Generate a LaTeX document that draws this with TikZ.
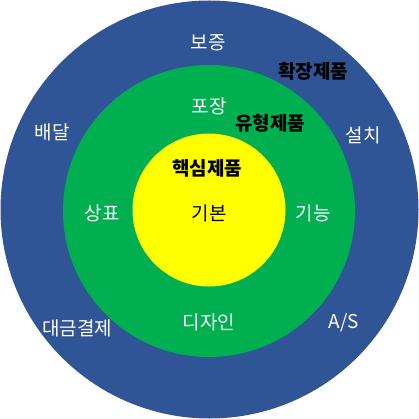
\documentclass[tikz,border=0pt]{standalone}
\usepackage{fontspec}
\setmainfont{Noto Sans CJK KR}
\usepackage{tikz}
\definecolor{outerblue}{HTML}{2F5597}
\definecolor{midgreen}{HTML}{00B050}
\definecolor{coreyellow}{HTML}{FFFF00}
\tikzset{ring/.style = {shape=circle,inner sep=0pt}}
\tikzset{item/.style = {text=white,font=\fontsize{19}{22}\selectfont}}
\tikzset{level/.style = {text=black,font=\fontsize{19}{22}\selectfont\bfseries}}

\begin{document}
\begin{tikzpicture}[x=1pt,y=-1pt]
                \useasboundingbox (0,0) rectangle (419,419);
                \node[ring,fill=outerblue,minimum size=418pt] (outer) at (209.5,209.5) {};
                \node[ring,fill=midgreen,minimum size=292pt] (mid) at (209,211) {};
                \node[ring,fill=coreyellow,minimum size=153pt] (core) at (209,210) {};

                \node[level] (ext) at (313,71) {확장제품};
                \node[level] (act) at (270,123) {유형제품};
                \node[level] (cor) at (207,168) {핵심제품};

                \node[item] (bojeung) at (208,43) {보증};
                \node[item] (baedal) at (52,132) {배달};
                \node[item] (seolchi) at (363,135) {설치};
                \node[item] (daegeum) at (77,328) {대금결제};
                \node[item] (as) at (344,323) {A/S};

                \node[item] (pojang) at (209,106) {포장};
                \node[item] (sangpyo) at (102,213) {상표};
                \node[item] (gineung) at (313,213) {기능};
                \node[item] (design) at (209,322) {디자인};

                \node[level,font=\fontsize{19}{22}\selectfont] (gibon) at (209,213) {기본};
            \end{tikzpicture}
\end{document}
